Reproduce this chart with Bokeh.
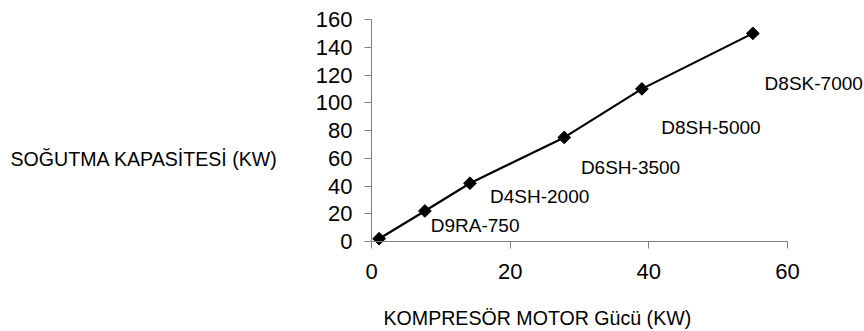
from bokeh.plotting import figure
from bokeh.models import Range1d, FixedTicker, Label, ColumnDataSource, LabelSet, LinearAxis
from bokeh.core.properties import value
from bokeh.embed import file_html
from bokeh.resources import INLINE
import math

# ---- data ----
motor_kw = [1.1, 7.7, 14.2, 27.8, 39.0, 55.0]
capacity_kw = [2, 22, 42, 75, 110, 150]
models = ["D9RA-750", "D4SH-2000", "D6SH-3500", "D8SH-5000", "D8SK-7000"]
label_x = [8.55, 17.1, 30.2, 41.8, 56.7]
label_y = [11.7, 32.1, 53.5, 82.1, 114.0]
x_ticks = [0, 20, 40, 60]
y_ticks = [0, 20, 40, 60, 80, 100, 120, 140, 160]
x_title = "KOMPRESÖR MOTOR Gücü (KW)"
y_title = "SOĞUTMA KAPASİTESİ (KW)"

W, H = 864, 331
# plot area (pixels) of the axes box
L, Rr, T, B = 371, 787, 19, 241
XMIN, XMAX, YMIN, YMAX = 0, 60, 0, 160
sx = (Rr - L) / (XMAX - XMIN)
sy = (B - T) / (YMAX - YMIN)
def px_to_data(px, py):
    return XMIN + (px - L) / sx, YMIN + (B - py) / sy

x0, y0 = px_to_data(0, H)
x1, y1 = px_to_data(W, 0)

p = figure(width=W, height=H, output_backend="svg", toolbar_location=None,
           x_range=Range1d(x0, x1), y_range=Range1d(y0, y1),
           x_axis_location=None, y_axis_location=None,
           min_border=0)
p.outline_line_color = None
p.grid.visible = False
p.background_fill_color = "white"
p.border_fill_color = "white"

FONT = "Liberation Sans"
xaxis = LinearAxis(fixed_location=0, bounds=(XMIN, XMAX))
yaxis = LinearAxis(fixed_location=0, bounds=(YMIN, YMAX))
for ax, ticks in ((xaxis, x_ticks), (yaxis, y_ticks)):
    ax.ticker = FixedTicker(ticks=ticks)
    ax.axis_line_color = "#808080"
    ax.major_tick_line_color = "#808080"
    ax.major_tick_out = 7
    ax.major_tick_in = 0
    ax.minor_tick_line_color = None
    ax.major_label_text_font = FONT
    ax.major_label_text_font_size = "22px"
    ax.major_label_text_color = "black"
xaxis.major_label_standoff = 15
yaxis.major_label_standoff = 12
p.add_layout(xaxis, "below")
p.add_layout(yaxis, "left")

p.line(motor_kw, capacity_kw, line_color="black", line_width=2.2)
p.scatter(motor_kw, capacity_kw, marker="square", angle=math.pi / 4, size=9,
          fill_color="black", line_color="black")

src = ColumnDataSource(dict(x=label_x, y=label_y, t=models))
p.add_layout(LabelSet(x="x", y="y", text="t", source=src, text_font=value(FONT),
                      text_font_size="19px", text_align="left",
                      text_baseline="middle", text_color="black"))

yx, yy = px_to_data(10, 158)
p.add_layout(Label(x=yx, y=yy, text=y_title, text_font=FONT, text_font_size="19.6px",
                   text_align="left", text_baseline="middle", text_color="black"))
xx, xy = px_to_data(383, 317)
p.add_layout(Label(x=xx, y=xy, text=x_title, text_font=FONT, text_font_size="19.6px",
                   text_align="left", text_baseline="middle", text_color="black"))

open("out.html", "w").write(file_html(p, INLINE))
